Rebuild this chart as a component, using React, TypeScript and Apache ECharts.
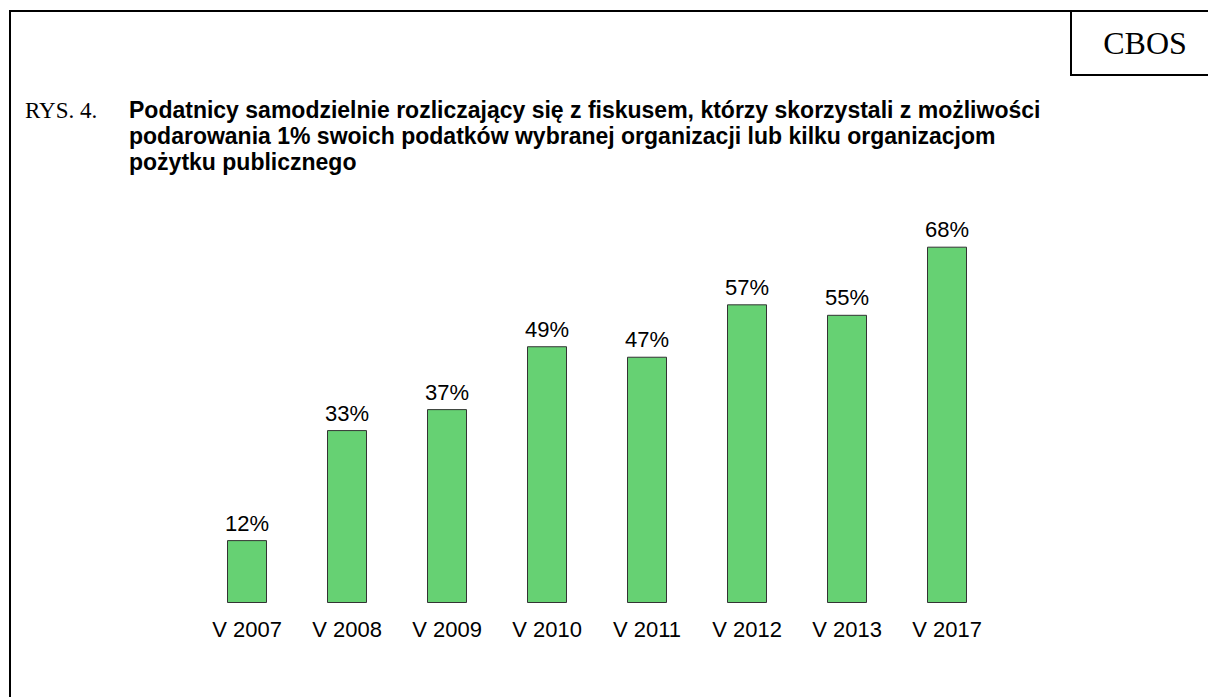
import React, { useEffect, useRef } from "react";
import * as echarts from "echarts";

const categories = ["V 2007", "V 2008", "V 2009", "V 2010", "V 2011", "V 2012", "V 2013", "V 2017"];
const values = [12, 33, 37, 49, 47, 57, 55, 68];
const titleLines = [
  "Podatnicy samodzielnie rozliczający się z fiskusem, którzy skorzystali z możliwości",
  "podarowania 1% swoich podatków wybranej organizacji lub kilku organizacjom",
  "pożytku publicznego",
];

export default function App() {
  const ref = useRef<HTMLDivElement>(null);
  useEffect(() => {
    const chart = echarts.init(ref.current!, null, { renderer: "svg" });
    chart.setOption({
      animation: false,
      backgroundColor: "#ffffff",
      grid: { left: 197, width: 800, top: 79, height: 524 },
      xAxis: {
        type: "category",
        data: categories,
        axisLine: { show: false },
        axisTick: { show: false },
        axisLabel: { color: "#000", fontFamily: "Liberation Sans, Arial", fontSize: 22, margin: 15 },
      },
      yAxis: { type: "value", min: 0, max: 100, show: false, splitLine: { show: false } },
      series: [
        {
          type: "bar",
          data: values,
          barWidth: 40,
          itemStyle: { color: "#66D173", borderColor: "#333", borderWidth: 1 },
          label: {
            show: true,
            position: "top",
            distance: 6,
            formatter: "{c}%",
            color: "#000",
            fontFamily: "Liberation Sans, Arial",
            fontSize: 22,
          },
        },
      ],
      graphic: [
        { type: "rect", shape: { x: 10, y: 11, width: 1210, height: 700 }, style: { fill: "none", stroke: "#000", lineWidth: 2 }, silent: true },
        { type: "rect", shape: { x: 1071, y: 11, width: 150, height: 64 }, style: { fill: "none", stroke: "#000", lineWidth: 2 }, silent: true },
        { type: "text", x: 1145, y: 43, style: { text: "CBOS", font: "32px 'Liberation Serif', 'Times New Roman', serif", fill: "#000", textAlign: "center", textVerticalAlign: "middle" } },
        { type: "text", x: 25, y: 110, style: { text: "RYS. 4.", font: "23px 'Liberation Serif', 'Times New Roman', serif", fill: "#000", textVerticalAlign: "middle" } },
        ...titleLines.map((t, i) => ({
          type: "text",
          x: 129,
          y: 110 + i * 25.8,
          style: { text: t, font: "bold 23px 'Liberation Sans', Arial, sans-serif", fill: "#000", textVerticalAlign: "middle" },
        })),
      ],
    });
    return () => chart.dispose();
  }, []);
  return <div ref={ref} style={{ position: "absolute", left: 0, top: 0, width: 1208, height: 697 }} />;
}
